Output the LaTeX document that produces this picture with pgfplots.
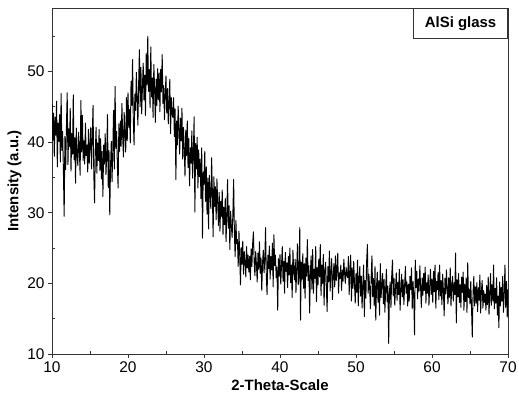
\documentclass[border=0pt]{standalone}
\usepackage{pgfplots}
\pgfplotsset{compat=1.18}
\usepackage{fontspec}
\setmainfont{Liberation Sans}
\begin{document}
\begin{tikzpicture}
\begin{axis}[
  width=456bp, height=346bp, scale only axis,
  xmin=10, xmax=70, ymin=10, ymax=59,
  xtick={10,20,...,70}, ytick={10,20,...,50},
  minor xtick={15,25,...,65}, minor ytick={15,25,...,55},
  tick align=outside, xtick pos=bottom, ytick pos=left,
  major tick length=4bp, minor tick length=3bp,
  minor x tick style={yshift=3bp}, minor y tick style={xshift=3bp},
  axis line style={line width=0.9bp, black!80},
  every tick/.style={line width=0.9bp, black!80},
  ticklabel style={font=\fontsize{15.5}{17}\selectfont},
  label style={font=\bfseries\fontsize{15}{17}\selectfont},
  xlabel={2-Theta-Scale}, ylabel={Intensity (a.u.)},
  ylabel shift=-1bp,
  /pgf/number format/assume math mode=true,
]
\addplot[black, line width=0.95bp, mark=none, line join=round] coordinates {
(10.0,45.5)(10.1,40.2)(10.2,44.1)(10.3,38.0)(10.4,43.5)(10.5,41.0)(10.6,45.8)(10.7,36.5)(10.8,42.7)(10.9,40.1)
(11.0,43.9)(11.1,37.2)(11.2,46.9)(11.3,38.8)(11.4,41.5)(11.5,36.0)(11.6,29.5)(11.7,40.8)(11.8,36.1)(11.9,42.3)
(12.0,47.0)(12.1,36.8)(12.2,41.9)(12.3,39.4)(12.4,44.8)(12.5,35.9)(12.6,41.2)(12.7,38.3)(12.8,46.7)(12.9,37.5)
(13.0,40.6)(13.1,34.2)(13.2,42.0)(13.3,38.1)(13.4,36.7)(13.5,41.4)(13.6,39.0)(13.7,35.3)(13.8,45.9)(13.9,38.6)
(14.0,43.8)(14.1,37.4)(14.2,40.2)(14.3,36.9)(14.4,42.7)(14.5,38.1)(14.6,39.6)(14.7,35.8)(14.8,41.8)(14.9,37.0)
(15.0,39.7)(15.1,42.1)(15.2,36.2)(15.3,40.9)(15.4,45.2)(15.5,35.5)(15.6,31.4)(15.7,38.5)(15.8,42.1)(15.9,35.6)
(16.0,39.9)(16.1,37.4)(16.2,41.8)(16.3,36.0)(16.4,40.5)(16.5,34.8)(16.6,38.7)(16.7,32.3)(16.8,39.6)(16.9,36.9)
(17.0,41.2)(17.1,35.4)(17.2,38.0)(17.3,43.9)(17.4,33.6)(17.5,38.8)(17.6,29.7)(17.7,36.5)(17.8,40.1)(17.9,34.4)
(18.0,38.9)(18.1,44.5)(18.2,36.2)(18.3,47.9)(18.4,39.1)(18.5,41.5)(18.6,36.8)(18.7,33.5)(18.8,42.6)(18.9,38.7)
(19.0,43.0)(19.1,39.4)(19.2,45.5)(19.3,40.8)(19.4,37.9)(19.5,44.2)(19.6,41.0)(19.7,38.6)(19.8,46.3)(19.9,40.2)
(20.0,47.0)(20.1,42.1)(20.2,44.6)(20.3,39.9)(20.4,48.6)(20.5,45.2)(20.6,51.7)(20.7,43.0)(20.8,39.6)(20.9,46.8)
(21.0,44.5)(21.1,49.9)(21.2,46.1)(21.3,42.4)(21.4,48.2)(21.5,53.1)(21.6,45.0)(21.7,50.6)(21.8,44.0)(21.9,47.8)
(22.0,51.2)(22.1,46.0)(22.2,49.5)(22.3,43.8)(22.4,52.6)(22.5,48.1)(22.6,55.0)(22.7,47.2)(22.8,50.3)(22.9,44.9)
(23.0,53.5)(23.1,46.4)(23.2,49.1)(23.3,43.5)(23.4,51.0)(23.5,47.6)(23.6,42.8)(23.7,48.9)(23.8,45.2)(23.9,50.4)
(24.0,46.0)(24.1,49.8)(24.2,44.3)(24.3,50.3)(24.4,47.1)(24.5,52.4)(24.6,45.5)(24.7,48.0)(24.8,43.2)(24.9,46.9)
(25.0,49.4)(25.1,44.1)(25.2,47.6)(25.3,42.6)(25.4,45.8)(25.5,48.9)(25.6,41.2)(25.7,46.3)(25.8,44.0)(25.9,43.5)
(26.0,46.3)(26.1,40.8)(26.2,44.7)(26.3,34.7)(26.4,43.0)(26.5,39.6)(26.6,45.1)(26.7,41.9)(26.8,38.3)(26.9,43.4)
(27.0,40.2)(27.1,44.8)(27.2,37.6)(27.3,42.1)(27.4,39.0)(27.5,35.2)(27.6,41.7)(27.7,38.1)(27.8,43.0)(27.9,36.4)
(28.0,40.5)(28.1,33.8)(28.2,39.2)(28.3,37.0)(28.4,41.6)(28.5,34.9)(28.6,38.5)(28.7,43.6)(28.8,30.1)(28.9,39.8)
(29.0,36.2)(29.1,40.7)(29.2,33.5)(29.3,38.9)(29.4,35.1)(29.5,37.6)(29.6,32.0)(29.7,39.2)(29.8,26.4)(29.9,35.8)
(30.0,34.0)(30.1,38.7)(30.2,31.6)(30.3,36.5)(30.4,29.8)(30.5,34.9)(30.6,27.7)(30.7,35.3)(30.8,32.4)(30.9,30.6)
(31.0,37.8)(31.1,33.0)(31.2,26.6)(31.3,35.1)(31.4,30.9)(31.5,33.7)(31.6,29.0)(31.7,34.8)(31.8,31.5)(31.9,28.2)
(32.0,32.9)(32.1,27.4)(32.2,31.6)(32.3,29.5)(32.4,33.2)(32.5,26.9)(32.6,30.8)(32.7,28.3)(32.8,32.0)(32.9,25.9)
(33.0,29.6)(33.1,34.7)(33.2,27.8)(33.3,31.0)(33.4,24.8)(33.5,30.2)(33.6,28.1)(33.7,26.5)(33.8,29.9)(33.9,34.7)
(34.0,27.0)(34.1,23.8)(34.2,28.9)(34.3,25.6)(34.4,26.2)(34.5,22.4)(34.6,27.4)(34.7,24.0)(34.8,19.8)(34.9,25.1)
(35.0,22.7)(35.1,26.0)(35.2,21.3)(35.3,24.5)(35.4,23.1)(35.5,20.9)(35.6,25.2)(35.7,22.2)(35.8,24.0)(35.9,21.6)
(36.0,23.8)(36.1,20.5)(36.2,24.9)(36.3,22.4)(36.4,25.6)(36.5,27.3)(36.6,23.0)(36.7,21.1)(36.8,24.5)(36.9,22.7)
(37.0,20.2)(37.1,24.3)(37.2,22.0)(37.3,25.9)(37.4,21.4)(37.5,23.6)(37.6,19.0)(37.7,22.8)(37.8,24.7)(37.9,21.5)
(38.0,23.3)(38.1,27.9)(38.2,21.0)(38.3,18.4)(38.4,24.0)(38.5,22.1)(38.6,25.3)(38.7,20.6)(38.8,23.8)(38.9,21.9)
(39.0,25.7)(39.1,19.5)(39.2,26.9)(39.3,22.5)(39.4,24.0)(39.5,20.8)(39.6,22.3)(39.7,16.2)(39.8,23.5)(39.9,21.0)
(40.0,24.1)(40.1,19.9)(40.2,22.6)(40.3,25.2)(40.4,20.3)(40.5,23.1)(40.6,18.6)(40.7,24.4)(40.8,21.7)(40.9,22.9)
(41.0,19.4)(41.1,23.8)(41.2,21.2)(41.3,25.0)(41.4,20.1)(41.5,22.6)(41.6,18.0)(41.7,24.7)(41.8,21.9)(41.9,20.5)
(42.0,23.4)(42.1,18.7)(42.2,22.2)(42.3,25.6)(42.4,19.8)(42.5,21.1)(42.6,27.9)(42.7,14.8)(42.8,23.0)(42.9,20.6)
(43.0,24.2)(43.1,19.3)(43.2,22.8)(43.3,17.9)(43.4,23.6)(43.5,21.0)(43.6,26.2)(43.7,20.4)(43.8,22.5)(43.9,15.8)
(44.0,21.6)(44.1,23.9)(44.2,19.2)(44.3,24.8)(44.4,18.6)(44.5,22.0)(44.6,20.7)(44.7,25.2)(44.8,17.4)(44.9,22.3)
(45.0,19.8)(45.1,23.4)(45.2,20.9)(45.3,25.5)(45.4,18.3)(45.5,22.6)(45.6,20.0)(45.7,24.1)(45.8,16.9)(45.9,21.7)
(46.0,23.0)(46.1,19.6)(46.2,16.0)(46.3,22.4)(46.4,20.2)(46.5,24.6)(46.6,18.9)(46.7,21.8)(46.8,23.5)(46.9,17.7)
(47.0,21.2)(47.1,22.8)(47.2,19.5)(47.3,23.9)(47.4,20.4)(47.5,22.0)(47.6,24.3)(47.7,18.6)(47.8,21.5)(47.9,20.7)
(48.0,22.6)(48.1,19.0)(48.2,21.9)(48.3,20.3)(48.4,23.4)(48.5,21.4)(48.6,20.0)(48.7,22.3)(48.8,21.1)(48.9,20.8)
(49.0,23.8)(49.1,18.4)(49.2,21.6)(49.3,24.0)(49.4,17.5)(49.5,22.2)(49.6,19.3)(49.7,23.1)(49.8,20.0)(49.9,17.2)
(50.0,21.4)(50.1,18.7)(50.2,23.3)(50.3,16.8)(50.4,20.6)(50.5,22.4)(50.6,18.2)(50.7,21.0)(50.8,16.5)(50.9,19.8)
(51.0,22.6)(51.1,15.3)(51.2,20.4)(51.3,17.9)(51.4,23.1)(51.5,25.5)(51.6,18.6)(51.7,21.3)(51.8,19.2)(51.9,16.4)
(52.0,21.0)(52.1,23.9)(52.2,18.1)(52.3,20.7)(52.4,16.8)(52.5,22.4)(52.6,14.8)(52.7,19.5)(52.8,21.6)(52.9,17.3)
(53.0,20.4)(53.1,15.5)(53.2,22.8)(53.3,18.0)(53.4,19.9)(53.5,21.4)(53.6,17.1)(53.7,20.6)(53.8,15.9)(53.9,19.2)
(54.0,22.0)(54.1,17.4)(54.2,19.6)(54.3,11.5)(54.4,18.8)(54.5,20.2)(54.6,16.6)(54.7,21.1)(54.8,23.3)(54.9,18.2)
(55.0,20.7)(55.1,16.9)(55.2,19.3)(55.3,21.5)(55.4,17.6)(55.5,20.1)(55.6,18.4)(55.7,22.0)(55.8,16.2)(55.9,19.0)
(56.0,21.3)(56.1,18.1)(56.2,20.5)(56.3,17.0)(56.4,19.7)(56.5,22.4)(56.6,18.6)(56.7,20.2)(56.8,16.8)(56.9,19.9)
(57.0,17.5)(57.1,21.0)(57.2,19.1)(57.3,22.2)(57.4,16.4)(57.5,20.3)(57.6,18.0)(57.7,12.7)(57.8,23.3)(57.9,19.4)
(58.0,21.7)(58.1,17.8)(58.2,20.6)(58.3,18.9)(58.4,22.5)(58.5,19.4)(58.6,16.6)(58.7,20.8)(58.8,18.3)(58.9,21.4)
(59.0,19.0)(59.1,22.3)(59.2,17.2)(59.3,20.1)(59.4,18.6)(59.5,21.2)(59.6,16.9)(59.7,19.7)(59.8,22.0)(59.9,18.4)
(60.0,20.6)(60.1,17.3)(60.2,21.7)(60.3,18.8)(60.4,22.6)(60.5,16.5)(60.6,20.3)(60.7,19.1)(60.8,21.5)(60.9,17.7)
(61.0,22.6)(61.1,18.2)(61.2,20.4)(61.3,17.0)(61.4,21.3)(61.5,19.0)(61.6,15.4)(61.7,20.7)(61.8,18.5)(61.9,21.9)
(62.0,19.3)(62.1,17.1)(62.2,20.8)(62.3,18.0)(62.4,22.2)(62.5,16.8)(62.6,19.6)(62.7,21.0)(62.8,17.5)(62.9,20.1)
(63.0,18.4)(63.1,24.3)(63.2,14.4)(63.3,20.5)(63.4,18.1)(63.5,21.4)(63.6,17.3)(63.7,19.8)(63.8,16.6)(63.9,20.9)
(64.0,18.7)(64.1,21.6)(64.2,16.2)(64.3,19.9)(64.4,17.4)(64.5,20.8)(64.6,15.9)(64.7,22.9)(64.8,18.0)(64.9,19.2)
(65.0,17.1)(65.1,20.3)(65.2,16.5)(65.3,12.4)(65.4,18.6)(65.5,21.0)(65.6,16.8)(65.7,19.5)(65.8,17.2)(65.9,20.1)
(66.0,16.0)(66.1,19.4)(66.2,17.6)(66.3,21.2)(66.4,15.8)(66.5,18.9)(66.6,20.4)(66.7,16.5)(66.8,19.0)(66.9,17.3)
(67.0,18.5)(67.1,16.2)(67.2,19.7)(67.3,17.0)(67.4,20.9)(67.5,15.6)(67.6,18.3)(67.7,21.4)(67.8,16.9)(67.9,19.8)
(68.0,17.5)(68.1,22.6)(68.2,16.4)(68.3,19.3)(68.4,17.2)(68.5,20.8)(68.6,15.5)(68.7,18.2)(68.8,13.7)(68.9,20.2)
(69.0,16.8)(69.1,19.4)(69.2,17.5)(69.3,21.0)(69.4,15.9)(69.5,18.4)(69.6,22.6)(69.7,16.6)(69.8,20.3)(69.9,15.2)
(70.0,19.2)
};
\node[draw=black!80, line width=0.9bp, fill=white, anchor=north east, inner sep=0pt,
  minimum width=94bp, minimum height=30bp, font=\bfseries\fontsize{15}{17}\selectfont]
  at (rel axis cs:1,1) {AlSi glass};
\end{axis}
\pgfresetboundingbox
\useasboundingbox ([xshift=-52bp,yshift=-45bp]current axis.south west) rectangle ([xshift=11bp,yshift=8bp]current axis.north east);
\end{tikzpicture}
\end{document}
